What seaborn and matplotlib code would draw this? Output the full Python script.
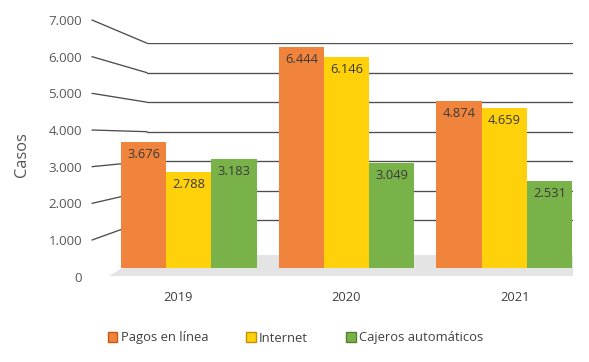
import matplotlib
matplotlib.use("Agg")
import matplotlib.pyplot as plt
import seaborn as sns
import pandas as pd
from matplotlib.patches import ConnectionPatch, Polygon, Patch

# ---- data ----
years = ["2019", "2020", "2021"]
series = ["Pagos en línea", "Internet", "Cajeros automáticos"]
pagos_en_linea = [3676, 6444, 4874]
internet = [2788, 6146, 4659]
cajeros_automaticos = [3183, 3049, 2531]
y_ticks = [0, 1000, 2000, 3000, 4000, 5000, 6000, 7000]
y_tick_labels = ["0", "1.000", "2.000", "3.000", "4.000", "5.000", "6.000", "7.000"]

colors = ["#F0843C", "#FFD10B", "#7AB24A"]
edge_colors = ["#C65A12", "#BF9000", "#548235"]

values = [pagos_en_linea, internet, cajeros_automaticos]
df = pd.DataFrame({
    "Año": [y for s in series for y in years],
    "Serie": [s for s in series for _ in years],
    "Casos": [v for vals in values for v in vals],
})

sns.set_theme(style="white")
plt.rcParams["font.family"] = ["Open Sans", "DejaVu Sans"]

W, H = 589, 362
fig = plt.figure(figsize=(W / 100, H / 100), dpi=100)


def rect(left, top, right, bottom):
    return [left / W, 1 - bottom / H, (right - left) / W, (bottom - top) / H]


line_color = "#4d4d4d"

# back wall with gridlines (perspective)
ax_back = fig.add_axes(rect(147, 43.2, 572.7, 249.7), zorder=0)
ax_back.set_xlim(0, 1)
ax_back.set_ylim(y_ticks[0], y_ticks[-1])
for v in y_ticks[1:]:
    ax_back.axhline(v, color=line_color, lw=0.95)
ax_back.axis("off")

# value axis labels (front plane)
ax_lab = fig.add_axes(rect(92, 20, 147, 276.7), zorder=0)
ax_lab.set_ylim(y_ticks[0], y_ticks[-1])
ax_lab.set_yticks(y_ticks)
ax_lab.set_yticklabels(y_tick_labels, color="#595959", fontsize=9.6)
ax_lab.tick_params(axis="y", length=0, pad=7.2)
ax_lab.set_xticks([])
ax_lab.patch.set_alpha(0)
for sp in ax_lab.spines.values():
    sp.set_visible(False)

# connectors from label plane to back wall
for v in y_ticks[1:]:
    con = ConnectionPatch(xyA=(0, v), coordsA=ax_lab.get_yaxis_transform(),
                          xyB=(0, v), coordsB=ax_back.get_yaxis_transform(),
                          color=line_color, lw=0.95, zorder=0.5)
    fig.add_artist(con)

# floor
floor_px = [(109, 276), (144, 255), (573, 255), (573, 276)]
floor = Polygon([(x / W, 1 - y / H) for x, y in floor_px], closed=True,
                transform=fig.transFigure, facecolor="#E4E4E4", edgecolor="none",
                zorder=0.6)
fig.add_artist(floor)

# bars
ax = fig.add_axes(rect(110, 28.1, 583, 267.5), zorder=5)
sns.barplot(data=df, x="Año", y="Casos", hue="Serie", hue_order=series,
            palette=colors, width=0.86, gap=0, saturation=1, ax=ax,
            legend=False, linewidth=0)
ax.set_ylim(y_ticks[0], y_ticks[-1])
ax.set_xlim(-0.5, 2.5)
ax.patch.set_alpha(0)
ax.axis("off")

for container, vals in zip(ax.containers, values):
    for bar, v in zip(container, vals):
        ax.annotate(f"{v:,}".replace(",", "."),
                    (bar.get_x() + bar.get_width() / 2, bar.get_height()),
                    xytext=(0, -9), textcoords="offset points",
                    ha="center", va="center", fontsize=9.3, color="#3a3a3a")

# category labels (perspective-shifted front edge)
ax_cat = fig.add_axes(rect(93.75, 250, 599.25, 288), zorder=1)
ax_cat.set_xlim(-0.5, 2.5)
ax_cat.set_xticks(range(len(years)))
ax_cat.set_xticklabels(years, color="#404040", fontsize=9.3)
ax_cat.tick_params(axis="x", length=0, pad=2)
ax_cat.set_yticks([])
ax_cat.patch.set_alpha(0)
for sp in ax_cat.spines.values():
    sp.set_visible(False)

fig.text(22 / W, 1 - 154.5 / H, "Casos", rotation=90, ha="center", va="center",
         fontsize=11.8, color="#555555")

handles = [Patch(facecolor=c, edgecolor=ec, lw=1.0) for c, ec in zip(colors, edge_colors)]
fig.legend(handles, series, loc="center", bbox_to_anchor=(295.5 / W, 1 - 338 / H),
           ncol=3, frameon=False, handlelength=0.75, handleheight=0.75,
           handletextpad=0.25, columnspacing=2.9, fontsize=9.4,
           labelcolor="#404040")

fig.savefig("out.png", dpi=100)
